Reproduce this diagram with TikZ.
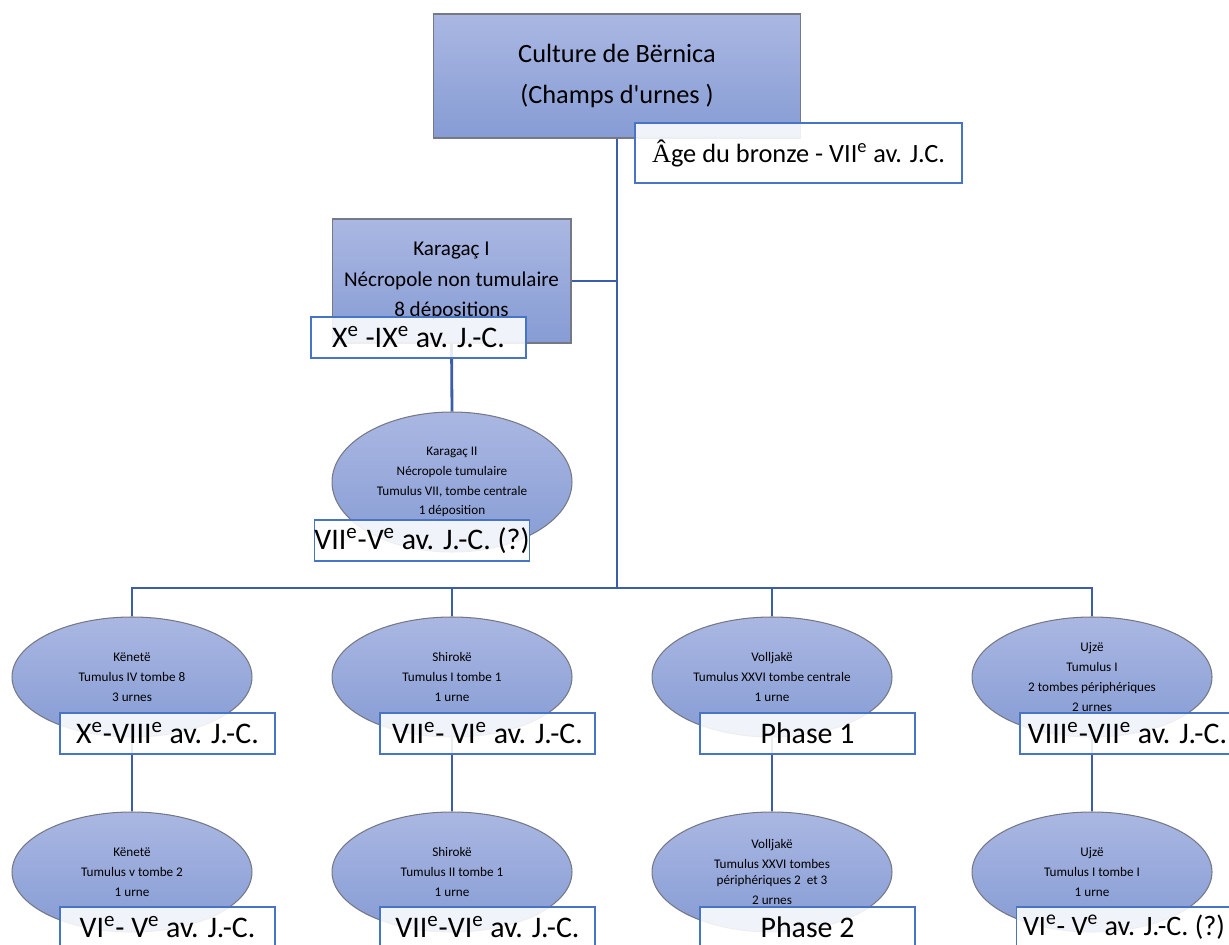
\documentclass[tikz,border=0pt]{standalone}
\usepackage{fontspec}
\setmainfont{Carlito}[Ligatures=TeXOff]
\newfontfamily\accentfont{Liberation Serif}
\usetikzlibrary{shapes.geometric, backgrounds}

\definecolor{sitetop}{RGB}{170,183,226}
\definecolor{sitebottom}{RGB}{134,156,212}
\definecolor{siteedge}{RGB}{118,120,132}
\definecolor{linkblue}{RGB}{60,94,168}
\definecolor{dateedge}{RGB}{72,116,198}

\tikzstyle{link} = [draw=linkblue, line width=1.6pt]
\tikzstyle{site} = [draw=siteedge, line width=0.6pt, top color=sitetop, bottom color=sitebottom, align=center]
\tikzstyle{culture} = [site, rectangle, minimum width=7.34cm, minimum height=2.48cm, font=\fontsize{15}{23.8}\selectfont]
\tikzstyle{necro} = [site, rectangle, minimum width=4.78cm, minimum height=2.48cm, font=\fontsize{12}{17.6}\selectfont]
\tikzstyle{tumulus} = [site, ellipse, inner sep=0pt, minimum width=4.8cm, minimum height=2.4cm, font=\fontsize{7.5}{11.3}\selectfont]
\tikzstyle{dating} = [rectangle, inner sep=0pt, minimum width=4.3cm, minimum height=0.82cm, draw=dateedge, line width=0.7pt, fill=white, fill opacity=0.88, text opacity=1, font=\fontsize{17}{20}\selectfont]

\begin{document}
\begin{tikzpicture}[x=0.02cm, y=-0.02cm]
\clip (0,0) rectangle (1229,945);

% Culture
\node (culture) [culture] at (617,76) {Culture de Bërnica\\(Champs d'urnes )};
\node (culture_date) [dating, minimum width=6.54cm, minimum height=1.2cm, font=\fontsize{15}{18}\selectfont] at (798.5,153) {{\accentfont Â}ge du bronze - VII\textsuperscript{e} av. J.C.};

% Karagac
\node (karagac1) [necro] at (451.5,281) {Karagaç I\\Nécropole non tumulaire\\8 dépositions};
\node (karagac2) [tumulus, minimum height=2.8cm] at (452,482) {Karagaç II\\Nécropole tumulaire\\Tumulus VII, tombe centrale\\1 déposition};

% Tumulus, first row
\node (kenete1) [tumulus] at (132,677) {Kënetë\\Tumulus IV tombe 8\\3 urnes};
\node (shiroke1) [tumulus] at (452,677) {Shirokë\\Tumulus I tombe 1\\1 urne};
\node (volljake1) [tumulus] at (772,677) {Volljakë\\Tumulus XXVI tombe centrale\\1 urne};
\node (ujze1) [tumulus] at (1092,677) {Ujzë\\Tumulus I\\2 tombes périphériques\\2 urnes};

% Tumulus, second row
\node (kenete2) [tumulus] at (132,872) {Kënetë\\Tumulus v tombe 2\\1 urne};
\node (shiroke2) [tumulus] at (452,872) {Shirokë\\Tumulus II tombe 1\\1 urne};
\node (volljake2) [tumulus] at (772,872) {Volljakë\\Tumulus XXVI tombes\\[-2pt]périphériques 2~ et 3\\2 urnes};
\node (ujze2) [tumulus] at (1092,872) {Ujzë\\Tumulus I tombe I\\1 urne};

% Datings
\node (karagac1_date) [dating] at (418.5,337.5) {X\textsuperscript{e} -IX\textsuperscript{e} av. J.-C.};
\node (karagac2_date) [dating] at (422,540.5) {VII\textsuperscript{e}-V\textsuperscript{e} av. J.-C. (?)};
\node (kenete1_date) [dating] at (167.5,733.5) {X\textsuperscript{e}-VIII\textsuperscript{e} av. J.-C.};
\node (shiroke1_date) [dating] at (487.5,733.5) {VII\textsuperscript{e}- VI\textsuperscript{e} av. J.-C.};
\node (volljake1_date) [dating] at (807.5,733.5) {Phase 1};
\node (ujze1_date) [dating] at (1127.5,733.5) {VIII\textsuperscript{e}-VII\textsuperscript{e} av. J.-C.};
\node (kenete2_date) [dating] at (167.5,927.5) {VI\textsuperscript{e}- V\textsuperscript{e} av. J.-C.};
\node (shiroke2_date) [dating] at (487.5,927.5) {VII\textsuperscript{e}-VI\textsuperscript{e} av. J.-C.};
\node (volljake2_date) [dating] at (807.5,927.5) {Phase 2};
\node (ujze2_date) [dating, font=\fontsize{16}{19}\selectfont] at (1124,927.5) {VI\textsuperscript{e}- V\textsuperscript{e} av. J.-C. (?)};

% Connections
\coordinate (bus) at (617,588);
\begin{scope}[on background layer]
\draw [link] (culture.south) -- (bus);
\draw [link] (karagac1.east) -- (karagac1.east -| bus);
\draw [link] (karagac1.south) -- (karagac2.north);
\draw [link] (kenete1.north) |- (bus);
\draw [link] (shiroke1.north) -- (shiroke1.north |- bus);
\draw [link] (volljake1.north) -- (volljake1.north |- bus);
\draw [link] (ujze1.north) |- (bus);
\draw [link] (kenete1.south) -- (kenete2.north);
\draw [link] (shiroke1.south) -- (shiroke2.north);
\draw [link] (volljake1.south) -- (volljake2.north);
\draw [link] (ujze1.south) -- (ujze2.north);
\end{scope}

\end{tikzpicture}
\end{document}
